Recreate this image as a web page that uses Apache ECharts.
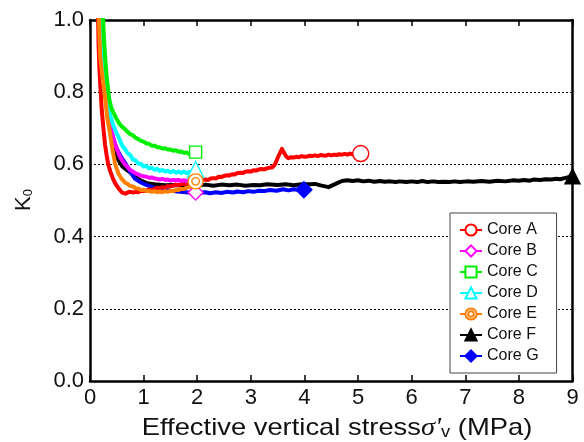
<!DOCTYPE html>
<html>
<head>
<meta charset="utf-8">
<script src="https://cdn.jsdelivr.net/npm/echarts@6/dist/echarts.min.js"></script>
<style>
  html, body { margin: 0; padding: 0; background: #fff; }
  #chart { width: 584px; height: 442px; }
</style>
</head>
<body>
<div id="chart"></div>
<script>
// K0 against effective vertical stress (MPa) for seven cores.
const coreNames = ['Core A', 'Core B', 'Core C', 'Core D', 'Core E', 'Core F', 'Core G'];

const coreA = [
  [0.15,1.02],[0.16,0.93],[0.18,0.85],[0.2,0.80],[0.22,0.75],[0.25,0.70],[0.28,0.655],[0.31,0.625],
  [0.34,0.60],[0.38,0.58],[0.43,0.56],[0.48,0.545],[0.54,0.532],[0.6,0.522],[0.66,0.519],[0.73,0.524],
  [0.8,0.522],[0.85,0.524],[0.9,0.523],[0.95,0.527],[1.0,0.526],[1.05,0.527],[1.1,0.531],[1.15,0.529],
  [1.2,0.532],[1.25,0.535],[1.3,0.534],[1.35,0.537],[1.4,0.536],[1.45,0.54],[1.5,0.539],[1.55,0.541],
  [1.6,0.544],[1.65,0.542],[1.7,0.545],[1.75,0.547],[1.8,0.546],[1.85,0.55],[1.9,0.549],[1.95,0.553],
  [2.0,0.554],[2.05,0.553],[2.1,0.557],[2.15,0.558],[2.2,0.557],[2.25,0.561],[2.3,0.562],[2.35,0.561],
  [2.4,0.566],[2.45,0.565],[2.5,0.568],[2.55,0.57],[2.6,0.569],[2.65,0.573],[2.7,0.572],[2.75,0.576],
  [2.8,0.577],[2.85,0.576],[2.9,0.58],[2.95,0.581],[3.0,0.58],[3.05,0.584],[3.1,0.583],[3.15,0.586],
  [3.2,0.587],[3.25,0.586],[3.3,0.589],[3.35,0.591],[3.4,0.592],[3.45,0.60],[3.5,0.618],[3.55,0.633],
  [3.58,0.643],[3.62,0.632],[3.66,0.622],[3.7,0.617],[3.75,0.62],[3.8,0.619],[3.85,0.621],[3.9,0.62],
  [3.95,0.623],[4.0,0.621],[4.05,0.622],[4.1,0.624],[4.15,0.623],[4.2,0.625],[4.25,0.623],[4.3,0.626],
  [4.35,0.625],[4.4,0.624],[4.45,0.627],[4.5,0.625],[4.55,0.627],[4.6,0.626],[4.65,0.628],[4.7,0.627],
  [4.75,0.629],[4.8,0.627],[4.85,0.63],[4.9,0.628],[4.95,0.629],[5.05,0.63]
];
const coreB = [
  [0.2,1.02],[0.24,0.9],[0.28,0.82],[0.33,0.75],[0.4,0.69],[0.48,0.65],[0.56,0.62],[0.65,0.60],
  [0.75,0.585],[0.85,0.575],[0.95,0.569],[1.0,0.567],[1.05,0.566],[1.1,0.563],[1.15,0.564],[1.2,0.561],
  [1.25,0.56],[1.3,0.558],[1.35,0.56],[1.4,0.557],[1.45,0.558],[1.5,0.555],[1.55,0.557],[1.6,0.556],
  [1.65,0.557],[1.7,0.554],[1.75,0.556],[1.8,0.554],[1.85,0.555],[1.9,0.552],[1.97,0.522]
];
const coreC = [
  [0.24,1.02],[0.26,0.95],[0.29,0.88],[0.32,0.83],[0.36,0.78],[0.4,0.755],[0.45,0.74],[0.5,0.725],
  [0.55,0.712],[0.6,0.704],[0.65,0.698],[0.7,0.69],[0.75,0.684],[0.8,0.681],[0.85,0.674],[0.9,0.67],
  [0.95,0.665],[1.0,0.663],[1.05,0.658],[1.1,0.657],[1.15,0.652],[1.2,0.652],[1.25,0.648],[1.3,0.647],
  [1.35,0.644],[1.4,0.645],[1.45,0.641],[1.5,0.641],[1.55,0.638],[1.6,0.639],[1.65,0.635],[1.7,0.636],
  [1.75,0.632],[1.8,0.633],[1.85,0.629],[1.9,0.631],[1.97,0.634]
];
const coreD = [
  [0.22,1.02],[0.25,0.92],[0.28,0.85],[0.32,0.79],[0.37,0.74],[0.43,0.71],[0.5,0.685],[0.56,0.667],
  [0.6,0.652],[0.65,0.643],[0.7,0.631],[0.75,0.626],[0.8,0.614],[0.85,0.611],[0.9,0.602],[0.95,0.602],
  [1.0,0.594],[1.05,0.596],[1.1,0.589],[1.15,0.591],[1.2,0.585],[1.25,0.588],[1.3,0.582],[1.35,0.585],
  [1.4,0.58],[1.45,0.583],[1.5,0.578],[1.55,0.582],[1.6,0.577],[1.65,0.58],[1.7,0.576],[1.75,0.58],
  [1.8,0.576],[1.85,0.579],[1.9,0.578],[1.97,0.586]
];
const coreE = [
  [0.16,1.02],[0.19,0.9],[0.24,0.83],[0.28,0.79],[0.32,0.73],[0.37,0.69],[0.42,0.64],[0.47,0.60],
  [0.53,0.575],[0.58,0.562],[0.62,0.555],[0.66,0.549],[0.7,0.546],[0.75,0.54],[0.8,0.539],[0.85,0.534],
  [0.9,0.533],[0.95,0.529],[1.0,0.53],[1.05,0.526],[1.1,0.527],[1.15,0.524],[1.2,0.526],[1.25,0.523],
  [1.3,0.525],[1.35,0.523],[1.4,0.526],[1.45,0.524],[1.5,0.527],[1.55,0.526],[1.6,0.529],[1.65,0.529],
  [1.7,0.532],[1.75,0.532],[1.8,0.535],[1.85,0.537],[1.9,0.54],[1.97,0.553]
];
const coreF = [
  [0.2,1.02],[0.23,0.9],[0.27,0.82],[0.32,0.75],[0.38,0.69],[0.45,0.645],[0.52,0.615],[0.6,0.595],
  [0.68,0.585],[0.75,0.578],[0.85,0.565],[0.95,0.555],[1.06,0.548],[1.2,0.545],[1.4,0.542],[1.6,0.543],
  [1.8,0.541],[1.95,0.544],[2.05,0.542],[2.15,0.544],[2.3,0.541],[2.45,0.544],[2.6,0.542],[2.75,0.544],
  [2.9,0.541],[3.05,0.543],[3.17,0.542],[3.3,0.545],[3.5,0.543],[3.65,0.545],[3.8,0.542],[3.95,0.545],
  [4.1,0.545],[4.2,0.546],[4.3,0.542],[4.45,0.537],[4.58,0.546],[4.7,0.554],[4.8,0.556],[4.9,0.554],
  [5.0,0.556],[5.1,0.553],[5.2,0.555],[5.3,0.552],[5.41,0.554],[5.5,0.552],[5.6,0.553],[5.7,0.551],
  [5.78,0.553],[5.9,0.551],[6.0,0.553],[6.1,0.551],[6.2,0.554],[6.3,0.551],[6.4,0.553],[6.5,0.551],
  [6.6,0.552],[6.7,0.551],[6.8,0.553],[6.9,0.551],[7.03,0.553],[7.15,0.552],[7.3,0.554],[7.45,0.552],
  [7.6,0.555],[7.75,0.553],[7.9,0.556],[8.0,0.555],[8.1,0.557],[8.2,0.555],[8.27,0.558],[8.4,0.557],
  [8.5,0.559],[8.6,0.558],[8.7,0.56],[8.77,0.559],[8.85,0.562],[9.0,0.567]
];
const coreG = [
  [0.21,1.02],[0.24,0.9],[0.28,0.82],[0.33,0.75],[0.4,0.69],[0.48,0.65],[0.56,0.625],[0.65,0.605],
  [0.75,0.58],[0.84,0.56],[0.95,0.55],[1.05,0.543],[1.2,0.535],[1.35,0.53],[1.5,0.527],[1.68,0.524],
  [1.85,0.522],[1.95,0.524],[2.05,0.522],[2.15,0.523],[2.24,0.52],[2.35,0.523],[2.45,0.521],[2.55,0.524],
  [2.67,0.522],[2.75,0.525],[2.86,0.523],[2.95,0.526],[3.05,0.524],[3.15,0.527],[3.25,0.526],[3.35,0.529],
  [3.48,0.527],[3.6,0.531],[3.7,0.528],[3.8,0.531],[3.9,0.529],[3.99,0.53]
];

const xTicks = [0, 1, 2, 3, 4, 5, 6, 7, 8, 9];
const yTicks = [0.0, 0.2, 0.4, 0.6, 0.8, 1.0];

const bullseye = 'path://M0,-10A10,10 0 1,1 0,10A10,10 0 1,1 0,-10Z M0,-5A5,5 0 1,1 0,5A5,5 0 1,1 0,-5Z';

// Style per core: line colour, end marker shape, fill and size.
const styles = {
  'Core A': { color: '#ff0000', symbol: 'circle',   fill: '#ffffff', size: 16 },
  'Core B': { color: '#ff00ff', symbol: 'diamond',  fill: '#ffffff', size: 15 },
  'Core C': { color: '#00ee00', symbol: 'rect',     fill: '#ffffff', size: 12 },
  'Core D': { color: '#00ffff', symbol: 'triangle', fill: '#ffffff', size: 16 },
  'Core E': { color: '#ff8000', symbol: bullseye,   fill: '#ffffff', size: 15 },
  'Core F': { color: '#000000', symbol: 'triangle', fill: '#000000', size: 15 },
  'Core G': { color: '#0000ff', symbol: 'diamond',  fill: '#0000ff', size: 16 }
};
const seriesData = {
  'Core A': coreA, 'Core B': coreB, 'Core C': coreC, 'Core D': coreD,
  'Core E': coreE, 'Core F': coreF, 'Core G': coreG
};
// drawing order, bottom first
const drawOrder = ['Core F', 'Core G', 'Core A', 'Core B', 'Core D', 'Core C', 'Core E'];

function buildSeries(name) {
  const s = styles[name];
  const pts = seriesData[name];
  const data = pts.map((p, i) => (i === pts.length - 1) ? { value: p } : { value: p, symbol: 'none' });
  return {
    name: name,
    type: 'line',
    data: data,
    symbol: s.symbol,
    symbolSize: s.size,
    showSymbol: true,
    showAllSymbol: true,
    clip: true,
    z: 3,
    lineStyle: { color: s.color, width: 4, join: 'round' },
    itemStyle: { color: s.fill, borderColor: s.color, borderWidth: 1.4 },
    emphasis: { disabled: true }
  };
}

const font = 'Liberation Sans, Arial, Helvetica, sans-serif';
const chart = echarts.init(document.getElementById('chart'), null, { renderer: 'canvas' });

chart.setOption({
  animation: false,
  backgroundColor: '#ffffff',
  grid: { left: 90, top: 20, width: 482.5, height: 361, containLabel: false },
  legend: {
    data: coreNames,
    orient: 'vertical',
    left: 450,
    top: 213,
    padding: [9, 18, 9, 9],
    itemGap: 5,
    itemWidth: 22,
    itemHeight: 14,
    backgroundColor: '#ffffff',
    borderColor: '#444',
    borderWidth: 1,
    textStyle: { fontFamily: font, fontSize: 16, color: '#111' },
    selectedMode: false
  },
  xAxis: [{
    type: 'value', min: xTicks[0], max: xTicks[xTicks.length - 1], interval: 1,
    position: 'bottom',
    axisLine: { show: true, lineStyle: { color: '#000', width: 2.5 } },
    axisTick: { show: true, inside: true, length: 6, lineStyle: { color: '#000', width: 1.5 } },
    axisLabel: { fontFamily: font, fontSize: 22, color: '#111', margin: 6 },
    splitLine: { show: false }
  }, {
    type: 'value', min: xTicks[0], max: xTicks[xTicks.length - 1], interval: 1,
    position: 'top',
    axisLine: { show: true, onZero: false, lineStyle: { color: '#000', width: 2.5 } },
    axisTick: { show: true, inside: true, length: 6, lineStyle: { color: '#000', width: 1.5 } },
    axisLabel: { show: false },
    splitLine: { show: false }
  }],
  yAxis: [{
    type: 'value', min: yTicks[0], max: yTicks[yTicks.length - 1], interval: 0.2,
    position: 'left',
    axisLine: { show: true, lineStyle: { color: '#000', width: 2.5 } },
    axisTick: { show: false },
    axisLabel: { fontFamily: font, fontSize: 22, color: '#111', margin: 6,
      formatter: v => v.toFixed(1) },
    splitLine: { show: true, lineStyle: { color: '#000', width: 1, type: [2, 2] } }
  }, {
    type: 'value', min: yTicks[0], max: yTicks[yTicks.length - 1], interval: 0.2,
    position: 'right',
    axisLine: { show: true, onZero: false, lineStyle: { color: '#000', width: 2.5 } },
    axisTick: { show: false },
    axisLabel: { show: false },
    splitLine: { show: false }
  }],
  graphic: [{
    type: 'text',
    x: 337, y: 428,
    scaleX: 1.14,
    style: {
      text: '{a|Effective vertical stress}{s|σ\'}{v|v}{a| (MPa)}',
      align: 'center', verticalAlign: 'middle',
      rich: {
        a: { fontFamily: font, fontSize: 24, fill: '#111' },
        s: { fontFamily: 'Liberation Serif, serif', fontStyle: 'italic', fontSize: 25, fill: '#111' },
        v: { fontFamily: font, fontSize: 16, fill: '#111', verticalAlign: 'bottom' }
      }
    }
  }, {
    type: 'text',
    x: 24, y: 200,
    rotation: Math.PI / 2,
    style: {
      text: '{k|K}{s|0}',
      align: 'center', verticalAlign: 'middle',
      rich: {
        k: { fontFamily: font, fontSize: 22, fill: '#111' },
        s: { fontFamily: font, fontSize: 13, fill: '#111', verticalAlign: 'bottom', padding: [8, 0, 0, 0] }
      }
    }
  }],
  series: drawOrder.map(buildSeries)
});
</script>
</body>
</html>
